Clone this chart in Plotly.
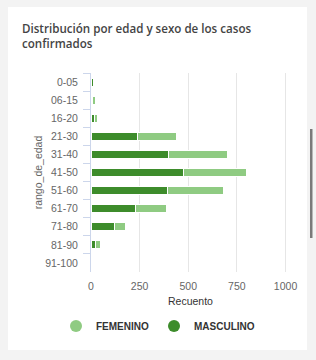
import plotly.graph_objects as go

categorias = ["0-05", "06-15", "16-20", "21-30", "31-40", "41-50", "51-60", "61-70", "71-80", "81-90", "91-100"]
masculino = [13, 8, 19, 239, 400, 476, 394, 228, 120, 22, 0]
femenino = [0, 14, 12, 202, 303, 323, 287, 162, 57, 26, 0]
x_ticks = [0, 250, 500, 750, 1000]

DARK = "#3d8c2b"
LIGHT = "#8fcb82"

W, H = 316, 360
L, R, T, B = 91, 26, 73, 88
PW, PH = W - L - R, H - T - B

def px_x(p):
    return (p - L) / PW

def px_y(p):
    return (H - B - p) / PH

fig = go.Figure()
fig.add_trace(go.Bar(y=categorias, x=masculino, orientation="h", name="MASCULINO",
                     marker=dict(color=DARK, line=dict(color="white", width=1)),
                     showlegend=False))
fig.add_trace(go.Bar(y=categorias, x=femenino, orientation="h", name="FEMENINO",
                     marker=dict(color=LIGHT, line=dict(color="white", width=1)),
                     showlegend=False))
# legend entries with circle markers
fig.add_trace(go.Scatter(x=[None], y=[None], mode="markers", name="FEMENINO",
                         marker=dict(color=LIGHT, size=11, symbol="circle")))
fig.add_trace(go.Scatter(x=[None], y=[None], mode="markers", name="MASCULINO",
                         marker=dict(color=DARK, size=11, symbol="circle")))

shapes = [
    dict(type="rect", xref="paper", yref="paper", layer="below",
         x0=px_x(8), x1=px_x(307), y0=px_y(350), y1=px_y(7),
         fillcolor="white", line=dict(width=0)),
    dict(type="rect", xref="paper", yref="paper", layer="above",
         x0=px_x(310), x1=px_x(312.5), y0=px_y(238), y1=px_y(129),
         fillcolor="#7a7a7a", line=dict(width=0)),
]

fig.update_layout(
    width=W, height=H,
    margin=dict(l=L, r=R, t=T, b=B, autoexpand=False),
    paper_bgcolor="#f3f3f3",
    plot_bgcolor="white",
    barmode="stack",
    bargap=0.56,
    shapes=shapes,
    font=dict(family="Liberation Sans, Arial", size=10.5, color="#666666"),
    title=dict(text="Distribución por edad y sexo de los casos<br>confirmados",
               xref="container", yref="container", x=22 / W, xanchor="left",
               y=1 - 33 / H, yanchor="top",
               font=dict(family="Open Sans", size=11.6, color="#444444", weight=600)),
    legend=dict(orientation="h", xref="container", yref="container",
                x=0.5, xanchor="center", y=1 - 326 / H, yanchor="middle",
                traceorder="normal",
                font=dict(family="Liberation Sans, Arial", size=10, color="#333333", weight="bold"),
                itemsizing="constant", bgcolor="rgba(0,0,0,0)"),
    xaxis=dict(range=[0, 1023], tickvals=x_ticks, ticktext=[str(v) for v in x_ticks],
               showgrid=True, gridcolor="#e6e6e6", gridwidth=1, zeroline=False,
               showline=False, ticks="", ticklabelstandoff=6, automargin=True,
               title=dict(text="Recuento", font=dict(size=10.5, color="#333333"), standoff=7)),
    yaxis=dict(categoryorder="array", categoryarray=categorias, autorange="reversed",
               showgrid=False, zeroline=False, showline=True, linecolor="#ccd6eb",
               ticks="outside", tickson="boundaries", ticklen=7, tickcolor="#ccd6eb",
               ticklabelstandoff=10, automargin=True,
               title=dict(text="rango_de_edad", font=dict(size=10.5, color="#666666"), standoff=0)),
)

fig.write_html("out.html")
